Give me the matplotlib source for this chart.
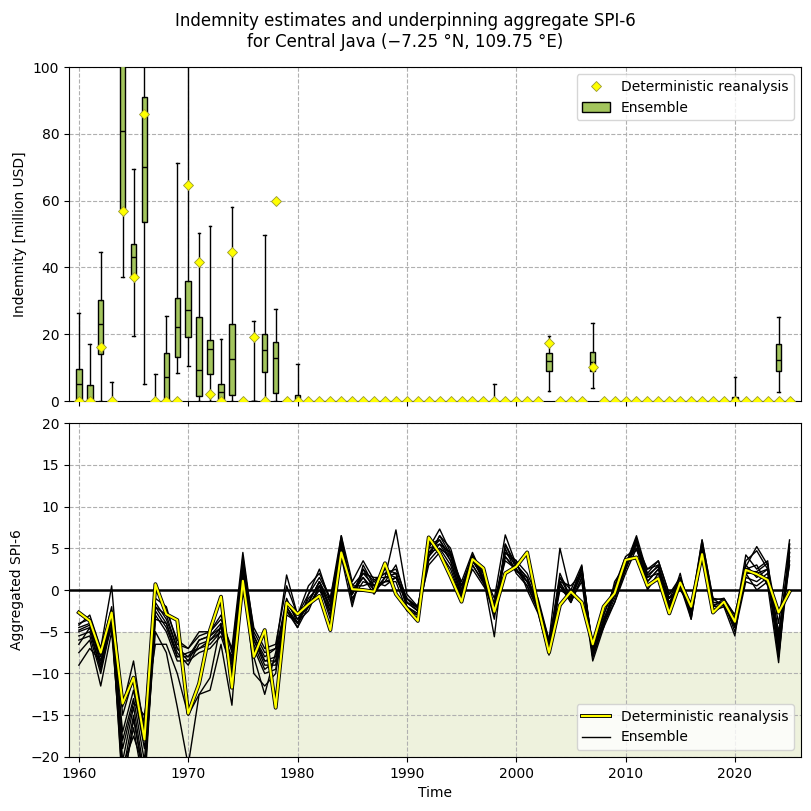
import numpy as np
import matplotlib
matplotlib.use("Agg")
import matplotlib.pyplot as plt
import matplotlib.patheffects as pe
from matplotlib.lines import Line2D
from matplotlib.patches import Patch

# -----------------------------
# Data
# -----------------------------
years = list(range(1960, 2026))

# deterministic reanalysis indemnity (million USD), non-zero years only
det_loss_years = [1962, 1964, 1965, 1966, 1970, 1971, 1972, 1974, 1976, 1978, 2003, 2007]
det_loss_vals = [16.3, 57.0, 37.0, 86.0, 64.7, 41.7, 2.0, 44.6, 19.3, 60.0, 17.3, 10.3]

# ensemble boxplot statistics (years with any ensemble loss)
box_years = [1960, 1961, 1962, 1963, 1964, 1965, 1966, 1967, 1968, 1969, 1970, 1971,
             1972, 1973, 1974, 1976, 1977, 1978, 1980, 1998, 2003, 2007, 2020, 2024]
box_q1 = [0, 0, 14.1, 0, 57.5, 37.5, 53.7, 0, 0, 13.1, 19.1, 1.5,
          8.1, 0, 1.8, 0, 8.6, 2.3, 0, 0, 9.0, 9.1, 0, 9.1]
box_med = [5.1, 0, 23.2, 0, 81.0, 43.0, 70.0, 0, 7.1, 22.1, 27.2, 9.3,
           15.7, 2.6, 12.6, 0, 15.3, 12.8, 0, 0, 12.0, 11.7, 0, 12.2]
box_q3 = [9.5, 4.8, 30.4, 0, 130.0, 46.9, 91.1, 0, 14.3, 31.0, 35.9, 25.1,
          18.2, 5.1, 23.0, 0, 20.0, 17.8, 1.8, 0, 14.3, 14.6, 1.3, 17.0]
box_lo = [0, 0, 0, 0, 37.2, 19.4, 5.1, 0, 0, 8.5, 10.5, 0,
          0, 0, 0, 0, 0, 0, 0, 0, 3.0, 3.8, 0, 2.6]
box_hi = [26.5, 17.0, 44.5, 5.6, 160.0, 69.5, 130.0, 8.1, 25.4, 71.2, 120.0, 50.2,
          52.5, 18.6, 58.1, 24.0, 49.7, 27.5, 11.1, 5.0, 19.6, 23.3, 7.1, 25.1]

# aggregated SPI-6, deterministic reanalysis
spi_det = [-2.7, -3.7, -7.5, -2.7, -13.6, -10.5, -17.9, 0.7, -2.9, -3.6,
           -14.8, -11.2, -4.8, -0.8, -11.7, 1.1, -8.0, -4.8, -14.1, -1.5,
           -2.9, -1.7, -0.7, -4.8, 4.5, 0.1, 0.0, -0.2, 3.2, -0.5,
           -2.2, -3.7, 6.3, 4.4, 1.6, -1.4, 3.7, 2.6, -2.6, 2.0,
           2.8, 4.5, -2.0, -7.5, -1.8, -0.2, -1.5, -6.5, -2.0, -0.4,
           3.6, 3.9, 0.5, 1.4, -2.8, 0.9, -2.0, 4.3, -2.7, -1.4,
           -3.8, 2.4, 1.9, 1.2, -2.7, -0.2]

# aggregated SPI-6, ensemble members
spi_m1 = [-4.2, -3.0, -7.0, 0.5, -15.0, -10.5, -16.0, 0.5, -2.5, -6.0,
          -7.0, -5.5, -5.0, -3.5, -7.0, 4.5, -5.0, -7.5, -7.0, 1.8,
          -3.0, -0.5, 1.5, -1.0, 6.5, 1.0, 3.5, 1.2, 2.0, 2.5,
          -1.0, -2.0, 5.0, 7.3, 4.5, 0.5, 4.2, 2.0, -1.0, 6.6,
          3.0, 1.5, -1.5, -6.0, 5.0, -0.5, 2.5, -7.0, -3.0, 0.5,
          3.0, 6.5, 2.0, 3.5, -0.5, 1.5, -2.5, 6.0, -1.2, -1.0,
          -3.0, 2.8, 5.2, 3.0, -4.0, 6.0]
spi_m2 = [-5.0, -4.5, -8.0, -2.5, -18.0, -13.0, -20.5, -1.5, -3.5, -7.0,
          -8.0, -6.0, -5.5, -4.0, -8.5, 3.5, -5.5, -8.5, -8.0, -1.5,
          -3.5, -1.5, 1.0, -1.5, 5.5, -0.5, 2.0, 0.5, 1.0, 1.5,
          -1.5, -2.5, 4.0, 5.5, 3.5, -0.5, 3.0, 1.0, -2.0, 4.0,
          2.5, 1.0, -2.0, -6.5, 1.5, -1.0, 2.0, -7.5, -3.5, -0.5,
          2.5, 5.5, 1.0, 2.5, -1.0, 0.5, -2.8, 5.0, -1.5, -1.5,
          -3.5, 2.0, 2.0, 2.5, -6.0, 5.0]
spi_m3 = [-4.5, -4.0, -9.0, -3.0, -20.5, -14.0, -22.0, -2.0, -4.0, -7.5,
          -9.0, -6.5, -6.0, -4.5, -9.0, 3.0, -6.0, -9.0, -9.0, -2.0,
          -4.0, -1.0, 0.5, -2.0, 6.0, 0.0, 1.5, 0.0, 1.5, 2.0,
          -2.0, -2.8, 4.5, 6.0, 4.0, 0.0, 3.5, 1.5, -3.0, 5.0,
          2.0, 0.5, -2.5, -7.0, 1.0, -1.5, 1.5, -8.0, -4.0, -1.0,
          2.5, 6.0, 1.5, 2.0, -1.5, 1.0, -3.0, 5.5, -2.0, -1.8,
          -4.5, 1.5, 1.0, 2.0, -7.0, 4.5]
spi_m4 = [-5.5, -5.0, -9.5, -3.5, -22.0, -15.0, -23.0, -2.5, -4.5, -8.0,
          -7.5, -7.0, -6.5, -5.0, -8.0, 2.5, -6.5, -9.5, -8.5, -2.5,
          -4.5, -2.0, 0.0, -2.5, 5.0, -1.0, 1.0, 0.5, 1.0, 1.0,
          -2.5, -3.0, 3.5, 5.0, 3.0, -0.8, 3.0, 0.8, -2.5, 4.5,
          3.5, 0.0, -2.8, -7.5, 0.5, -1.2, 1.0, -8.5, -4.5, -1.5,
          2.0, 5.0, 0.5, 1.5, -2.0, 0.5, -3.5, 4.5, -2.5, -1.5,
          -5.0, 1.0, 0.5, 1.5, -8.0, 3.5]
spi_m5 = [-6.0, -5.5, -10.0, -4.0, -23.0, -16.5, -24.0, -3.0, -5.0, -8.5,
          -8.5, -7.5, -7.0, -5.5, -9.5, 2.0, -7.0, -10.0, -9.5, -3.0,
          -3.8, -2.5, 0.5, -3.0, 4.5, 0.5, 0.5, 1.0, 0.5, 1.5,
          -1.0, -2.5, 3.0, 4.5, 2.5, -1.0, 2.5, 0.5, -1.5, 3.5,
          2.5, 1.0, -1.8, -6.8, 0.0, -0.8, 2.8, -7.2, -3.8, 0.0,
          3.5, 4.8, 2.5, 3.0, -1.0, 1.5, -2.0, 4.0, -1.0, -2.0,
          -4.0, 2.5, 3.0, 0.5, -8.7, 5.5]
spi_m6 = [-7.5, -6.0, -11.5, -5.0, -21.0, -17.5, -21.5, -5.0, -7.5, -14.0,
          -21.0, -12.5, -12.0, -6.5, -13.8, 3.0, -8.0, -12.5, -7.5, -1.0,
          -4.0, -1.5, 1.0, -2.0, 6.0, -1.5, 2.5, 0.0, 1.0, 3.0,
          -1.5, -2.0, 4.0, 6.5, 5.0, 0.5, 3.5, 1.5, -5.6, 5.5,
          3.0, 1.5, -2.0, -6.5, 2.0, -1.0, 2.0, -7.5, -3.5, -0.5,
          3.0, 6.0, 1.0, 2.5, -1.5, 0.5, -3.0, 5.0, -1.5, -1.5,
          -4.5, 3.5, 4.7, 2.5, -6.5, 4.0]
spi_m7 = [-9.0, -7.0, -8.5, -4.5, -19.0, -13.5, -15.0, -6.5, -6.5, -10.0,
          -15.0, -12.5, -10.5, -4.0, -11.0, 2.5, -10.0, -11.5, -10.0, -1.5,
          -3.5, -2.0, 0.5, -3.5, 5.0, -0.5, 1.5, -0.5, 1.5, 7.2,
          -0.5, -2.0, 4.5, 5.0, 4.0, 1.0, 4.5, 1.5, -3.5, 5.5,
          2.5, 0.5, -2.2, -7.0, 1.5, 0.0, 3.0, -8.0, -4.0, -1.5,
          2.5, 5.5, 2.5, 3.5, -0.5, 1.0, -2.5, 5.5, -2.0, -1.0,
          -3.5, 4.2, 2.5, 3.5, -7.5, 5.0]
spi_m8 = [-6.5, -4.5, -9.5, -3.0, -17.0, -12.0, -19.0, -2.0, -3.0, -7.0,
          -8.5, -6.0, -5.5, -4.5, -10.0, 4.0, -5.5, -8.0, -7.0, -2.0,
          -4.5, -0.5, 2.5, -1.5, 4.0, -2.0, 3.0, 0.5, 2.5, 2.0,
          -2.0, -3.0, 5.5, 6.0, 3.5, -0.5, 4.0, 1.0, -1.5, 4.5,
          3.5, 2.0, -1.0, -6.0, 0.5, -1.5, 1.5, -6.5, -3.0, 0.5,
          4.0, 5.0, 1.5, 3.0, -2.0, 2.0, -3.5, 4.5, -2.5, -2.0,
          -5.5, 3.0, 1.5, 2.5, -5.0, 3.0]
spi_m9 = [-4.0, -3.5, -7.5, -2.0, -14.0, -8.5, -17.0, -1.0, -2.0, -6.5,
          -7.0, -5.0, -5.0, -3.0, -7.5, 3.5, -4.5, -7.0, -6.5, 0.5,
          -3.0, 0.5, 2.0, -1.0, 5.5, 0.5, 2.0, 1.5, 1.5, 2.0,
          -1.5, -2.5, 5.0, 5.5, 4.5, 0.5, 3.5, 2.0, -2.0, 4.5,
          3.0, 1.0, -1.5, -7.0, 1.0, 0.5, 2.0, -7.0, -4.5, 1.0,
          3.0, 6.2, 0.0, 2.0, -1.0, 0.0, -2.0, 6.0, -1.0, -1.2,
          -3.0, 2.0, 0.0, 1.0, -5.5, 4.5]
spi_m10 = [-4.8, -4.2, -8.5, -3.2, -24.0, -15.5, -22.5, -3.5, -4.0, -8.0,
           -8.0, -7.0, -6.0, -5.0, -8.5, 3.0, -6.0, -8.5, -8.5, -2.5,
           -4.0, -1.5, 1.0, -2.5, 6.5, -0.5, 2.5, 1.0, 2.0, 1.5,
           -1.0, -2.2, 4.0, 6.5, 4.2, 0.0, 3.8, 1.2, -2.5, 4.0,
           2.2, 1.5, -2.5, -7.8, 0.8, -1.0, 2.5, -8.0, -4.0, -0.5,
           2.8, 5.8, 1.8, 2.8, -1.8, 1.2, -3.2, 5.2, -1.8, -1.5,
           -4.2, 2.2, 2.2, 3.2, -8.0, 5.5]

ensemble = [spi_m1, spi_m2, spi_m3, spi_m4, spi_m5,
            spi_m6, spi_m7, spi_m8, spi_m9, spi_m10]

spi_threshold = -5

BOX_COLOR = "#a3c55d"
SHADE_COLOR = "#eef2dd"

# -----------------------------
# Figure
# -----------------------------
fig = plt.figure(figsize=(8.11, 8.11), dpi=100)
ax1 = fig.add_axes([0.0851, 0.5055, 0.9026, 0.4118])
ax2 = fig.add_axes([0.0851, 0.0666, 0.9026, 0.4118], sharex=ax1)

# --- top: indemnity boxplots
stats = []
for i, yr in enumerate(box_years):
    stats.append(dict(med=box_med[i], q1=box_q1[i], q3=box_q3[i],
                      whislo=box_lo[i], whishi=box_hi[i], fliers=[]))
ax1.bxp(stats, positions=box_years, widths=0.5, patch_artist=True,
        boxprops=dict(facecolor=BOX_COLOR, edgecolor="black", linewidth=1),
        medianprops=dict(color="black", linewidth=1),
        whiskerprops=dict(color="black", linewidth=1),
        capprops=dict(color="black", linewidth=1),
        manage_ticks=False, zorder=3)

det_loss = [0.0] * len(years)
for yr, v in zip(det_loss_years, det_loss_vals):
    det_loss[years.index(yr)] = v
ax1.plot(years, det_loss, linestyle="none", marker="D", markersize=5.5,
         markerfacecolor="yellow", markeredgecolor="#9a9a30",
         markeredgewidth=0.6, zorder=5)

ax1.set_ylim(0, 100)
ax1.set_yticks(range(0, 101, 20))
ax1.set_ylabel("Indemnity [million USD]")
ax1.grid(True, linestyle="--", color="#b0b0b0")
ax1.set_axisbelow(True)
plt.setp(ax1.get_xticklabels(), visible=False)

h1 = [Line2D([], [], linestyle="none", marker="D", markersize=5,
             markerfacecolor="yellow", markeredgecolor="#9a9a30",
             markeredgewidth=0.6, label="Deterministic reanalysis"),
      Patch(facecolor=BOX_COLOR, edgecolor="black", label="Ensemble")]
ax1.legend(handles=h1, loc="upper right")

# --- bottom: aggregated SPI-6
ax2.axhspan(-20, spi_threshold, color=SHADE_COLOR, zorder=0, lw=0)
for m in ensemble:
    ax2.plot(years, m, color="black", linewidth=1, zorder=2)
ax2.plot(years, spi_det, color="yellow", linewidth=1.5, zorder=4,
         path_effects=[pe.Stroke(linewidth=2.8, foreground="black"), pe.Normal()])
ax2.axhline(0, color="black", linewidth=1.8, zorder=3)

ax2.set_ylim(-20, 20)
ax2.set_yticks(range(-20, 21, 5))
ax2.set_xlim(1959.1, 2026.05)
ax2.set_xticks(range(1960, 2021, 10))
ax2.set_xlabel("Time")
ax2.set_ylabel("Aggregated SPI-6")
ax2.grid(True, linestyle="--", color="#b0b0b0")
ax2.set_axisbelow(True)

h2 = [Line2D([], [], color="yellow", linewidth=1.5,
             path_effects=[pe.Stroke(linewidth=2.8, foreground="black"), pe.Normal()],
             label="Deterministic reanalysis"),
      Line2D([], [], color="black", linewidth=1, label="Ensemble")]
ax2.legend(handles=h2, loc="lower right")

fig.suptitle("Indemnity estimates and underpinning aggregate SPI-6\n"
             "for Central Java (\u22127.25 \u00b0N, 109.75 \u00b0E)",
             fontsize=12, y=0.985)

fig.savefig("out.png", dpi=100)
